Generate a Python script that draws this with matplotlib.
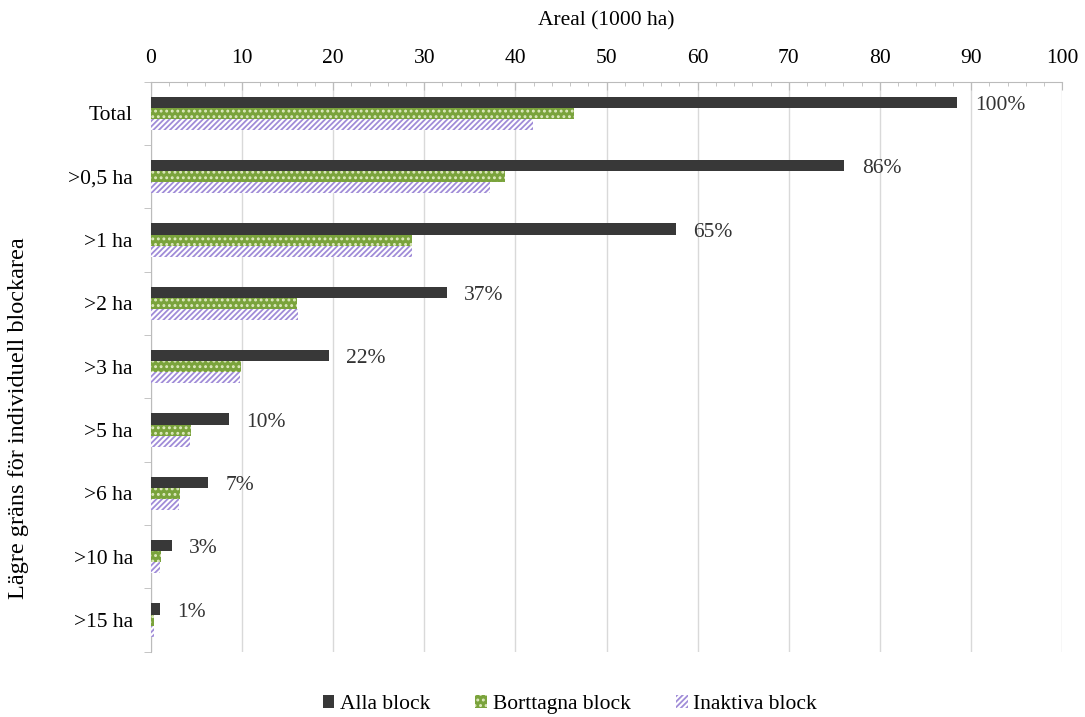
import matplotlib.pyplot as plt
import numpy as np
from matplotlib.ticker import MultipleLocator

plt.rcParams['font.family'] = ['Liberation Serif', 'DejaVu Serif']
plt.rcParams['hatch.linewidth'] = 1.3

categories = ['Total', '>0,5 ha', '>1 ha', '>2 ha', '>3 ha', '>5 ha', '>6 ha', '>10 ha', '>15 ha']
alla = [88.5, 76.1, 57.6, 32.5, 19.5, 8.6, 6.3, 2.3, 1.0]
borttagna = [46.4, 38.9, 28.7, 16.0, 9.9, 4.4, 3.2, 1.1, 0.3]
inaktiva = [41.9, 37.2, 28.7, 16.2, 9.8, 4.3, 3.1, 1.0, 0.4]

fs = 15.5

fig = plt.figure(figsize=(10.85, 7.17), dpi=100)
ax = fig.add_axes([0.139, 0.091, 0.840, 0.795])

y = np.arange(len(categories))
h = 0.175

ax.barh(y - h, alla, height=h, color='#383838', label='Alla block', zorder=3)
ax.barh(y, borttagna, height=h, color='#7aa33c', edgecolor='#dfeac0', hatch='...',
        linewidth=0, label='Borttagna block', zorder=3)
ax.barh(y + h, inaktiva, height=h, color='white', edgecolor='#a08cd8', hatch='//////',
        linewidth=0, label='Inaktiva block', zorder=3)

# percentage of total area for each lower limit
for yi, v in zip(y, alla):
    pct = round(v / alla[0] * 100)
    ax.text(v + 1.9, yi - h + 0.05, f'{pct}%', va='center', ha='left', fontsize=fs, color='#333333')

ax.set_xlim(0, 100)
ax.set_ylim(len(categories) - 0.5, -0.5)
ax.xaxis.tick_top()
ax.xaxis.set_label_position('top')
ax.xaxis.set_major_locator(MultipleLocator(10))
ax.xaxis.set_minor_locator(MultipleLocator(2))
ax.set_xlabel('Areal (1000 ha)', fontsize=fs, labelpad=17)
ax.set_yticks(y)
ax.set_yticklabels(categories, fontsize=fs)
ax.set_yticks(np.arange(len(categories) + 1) - 0.5, minor=True)
ax.tick_params(axis='x', which='major', labelsize=fs, direction='in', length=6,
               color='#bbbbbb', pad=10)
ax.tick_params(axis='x', which='minor', direction='in', length=3, color='#bbbbbb')
ax.tick_params(axis='y', which='major', length=0, pad=13)
ax.tick_params(axis='y', which='minor', length=5, color='#bbbbbb')
ax.grid(axis='x', which='major', color='#d9d9d9', linewidth=1, zorder=0)

for side in ['right', 'bottom']:
    ax.spines[side].set_visible(False)
ax.spines['top'].set_color('#bbbbbb')
ax.spines['left'].set_color('#bbbbbb')

fig.text(0.017, 0.417, 'Lägre gräns för individuell blockarea', rotation=90,
         va='center', ha='center', fontsize=17.5)

fig.legend(loc='center', bbox_to_anchor=(0.525, 0.018), ncol=3, frameon=False,
           fontsize=fs, handlelength=0.55, handleheight=0.55, handletextpad=0.25,
           columnspacing=2.1, borderpad=0)

fig.savefig('out.png', dpi=100)
